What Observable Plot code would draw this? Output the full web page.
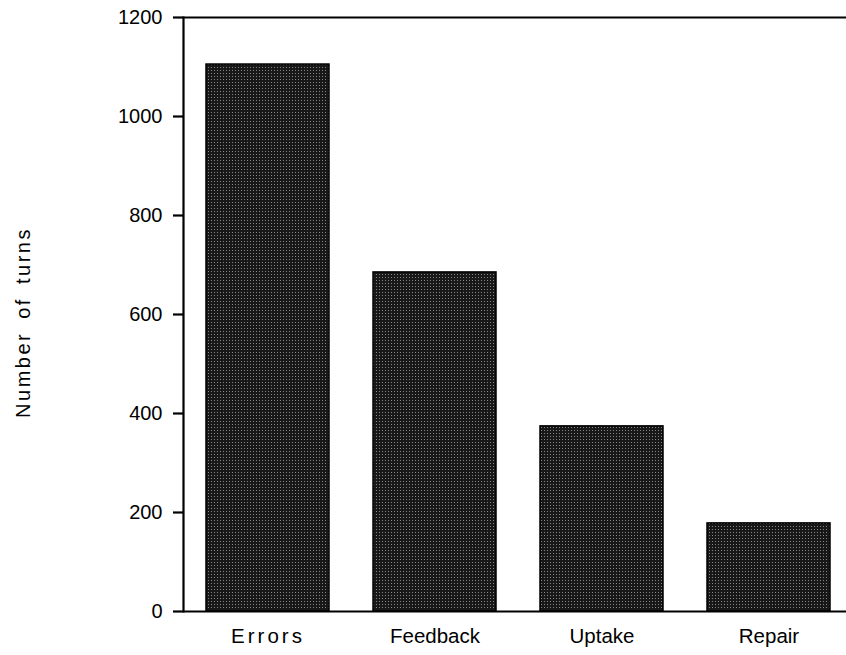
<!DOCTYPE html>
<html>
<head>
<meta charset="utf-8">
<script src="https://cdn.jsdelivr.net/npm/d3@7"></script>
<script src="https://cdn.jsdelivr.net/npm/@observablehq/plot@0.6"></script>
<style>
  body { margin: 0; background: #fff; }
  #chart svg { display: block; }
</style>
</head>
<body>
<div id="chart"></div>
<script>
const categories = ["Errors", "Feedback", "Uptake", "Repair"];
const turns = [1105, 685, 374, 178];
const yTicks = [0, 200, 400, 600, 800, 1000, 1200];
const yLabel = "Number of turns";

const data = categories.map((c, i) => ({category: c, turns: turns[i]}));

const chart = Plot.plot({
  width: 846,
  height: 655,
  marginLeft: 183,
  marginRight: 0,
  marginTop: 17,
  marginBottom: 44,
  style: {fontFamily: "'Liberation Sans', Arial, sans-serif", background: "#fff", color: "#000"},
  x: {domain: categories, range: [205, 832], paddingInner: 0.262, paddingOuter: 0, axis: null},
  y: {domain: [0, 1200], axis: null},
  marks: [
    Plot.barY(data, {x: "category", y: "turns", fill: "url(#stipple)", stroke: "#000", strokeWidth: 1.5}),
    Plot.ruleY([0, 1200], {stroke: "#000", strokeWidth: 2.2}),
    Plot.frame({anchor: "left", stroke: "#000", strokeWidth: 2.2}),
    Plot.axisY(yTicks, {ticks: yTicks, tickSize: 10, tickPadding: 11, fontSize: 20, strokeWidth: 2.2, label: null, tickFormat: d => String(d)}),
    Plot.axisX({tickSize: 0, tickPadding: 17, fontSize: 20.5, label: null}),
    Plot.text([yLabel], {frameAnchor: "left", textAnchor: "middle", dx: -160, dy: 8, rotate: -90, fontSize: 20, text: d => d})
  ]
});

// stipple pattern for bars
const ns = "http://www.w3.org/2000/svg";
const defs = document.createElementNS(ns, "defs");
const pat = document.createElementNS(ns, "pattern");
pat.setAttribute("id", "stipple");
pat.setAttribute("patternUnits", "userSpaceOnUse");
pat.setAttribute("width", "3");
pat.setAttribute("height", "3");
const bg = document.createElementNS(ns, "rect");
bg.setAttribute("width", "3"); bg.setAttribute("height", "3"); bg.setAttribute("fill", "#181818");
const dot = document.createElementNS(ns, "rect");
dot.setAttribute("x", "1"); dot.setAttribute("y", "1");
dot.setAttribute("width", "1"); dot.setAttribute("height", "1"); dot.setAttribute("fill", "#858585");
pat.appendChild(bg); pat.appendChild(dot); defs.appendChild(pat);
chart.insertBefore(defs, chart.firstChild);

// typographic spacing like the original
chart.querySelectorAll("text").forEach(t => {
  const s = t.textContent;
  if (s === "Errors") t.setAttribute("letter-spacing", "3");
  if (s === yLabel) { t.setAttribute("letter-spacing", "2.5"); t.setAttribute("word-spacing", "5"); }
});

document.getElementById("chart").appendChild(chart);
</script>
</body>
</html>
